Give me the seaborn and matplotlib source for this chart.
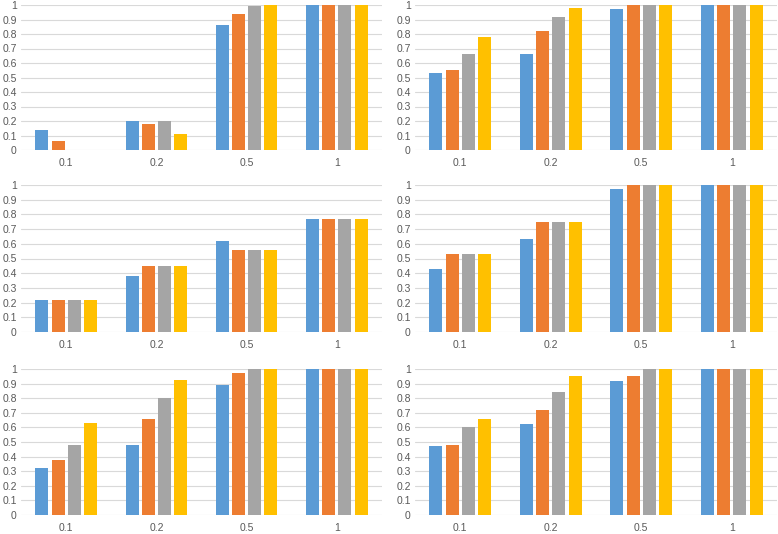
import numpy as np
import pandas as pd
import matplotlib
matplotlib.use("Agg")
import matplotlib.pyplot as plt
import seaborn as sns

categories = ["0.1", "0.2", "0.5", "1"]
series = ["S1", "S2", "S3", "S4"]
colors = ["#5B9BD5", "#ED7D31", "#A5A5A5", "#FFC000"]

# each panel: rows = series (blue, orange, gray, yellow), columns = categories
panel_a = [[0.135, 0.20, 0.86, 1.0],
           [0.065, 0.18, 0.94, 1.0],
           [0.0, 0.20, 0.99, 1.0],
           [0.0, 0.11, 1.0, 1.0]]
panel_b = [[0.53, 0.66, 0.97, 1.0],
           [0.55, 0.82, 1.0, 1.0],
           [0.66, 0.92, 1.0, 1.0],
           [0.78, 0.98, 1.0, 1.0]]
panel_c = [[0.22, 0.38, 0.62, 0.77],
           [0.22, 0.45, 0.555, 0.77],
           [0.22, 0.45, 0.555, 0.77],
           [0.22, 0.45, 0.555, 0.77]]
panel_d = [[0.43, 0.63, 0.975, 1.0],
           [0.53, 0.75, 1.0, 1.0],
           [0.53, 0.75, 1.0, 1.0],
           [0.53, 0.75, 1.0, 1.0]]
panel_e = [[0.32, 0.48, 0.89, 1.0],
           [0.38, 0.655, 0.97, 1.0],
           [0.48, 0.80, 1.0, 1.0],
           [0.63, 0.925, 1.0, 1.0]]
panel_f = [[0.47, 0.62, 0.92, 1.0],
           [0.48, 0.72, 0.955, 1.0],
           [0.60, 0.84, 1.0, 1.0],
           [0.66, 0.95, 1.0, 1.0]]
yticks = [0, 0.1, 0.2, 0.3, 0.4, 0.5, 0.6, 0.7, 0.8, 0.9, 1]
ytick_labels = ["0", "0.1", "0.2", "0.3", "0.4", "0.5", "0.6", "0.7", "0.8", "0.9", "1"]

panels = [panel_a, panel_b, panel_c, panel_d, panel_e, panel_f]

sns.set_theme(style="white")
plt.rcParams["font.family"] = ["Liberation Sans", "DejaVu Sans"]
fig = plt.figure(figsize=(7.78, 5.34), dpi=100)

W, H = 778, 534
lefts = [21, 415]
widths = [361, 362]
rows = [(5, 150), (185, 332), (369, 515)]

for i, pdata in enumerate(panels):
    r, c = divmod(i, 2)
    top, bot = rows[r]
    ax = fig.add_axes([lefts[c] / W, 1 - bot / H, widths[c] / W, (bot - top) / H])
    recs = []
    for s, vals in zip(series, pdata):
        for cat, v in zip(categories, vals):
            recs.append({"cat": cat, "series": s, "val": v})
    df = pd.DataFrame(recs)
    sns.barplot(data=df, x="cat", y="val", hue="series", order=categories,
                hue_order=series, palette=colors, width=0.72, gap=0.2,
                saturation=1, legend=False, ax=ax, linewidth=0)
    ax.set_ylim(0, 1)
    ax.set_xlim(-0.5, 3.5)
    ax.set_yticks(yticks)
    ax.set_yticklabels(ytick_labels)
    ax.set_xlabel("")
    ax.set_ylabel("")
    ax.grid(axis="y", color="#D9D9D9", linewidth=0.8)
    ax.set_axisbelow(True)
    for sp in ax.spines.values():
        sp.set_visible(False)
    ax.tick_params(axis="both", length=0, labelsize=7.5, labelcolor="#595959")
    ax.tick_params(axis="y", pad=3)
    ax.tick_params(axis="x", pad=6)
    ax.patch.set_alpha(0)

fig.savefig("out.png", dpi=100)
